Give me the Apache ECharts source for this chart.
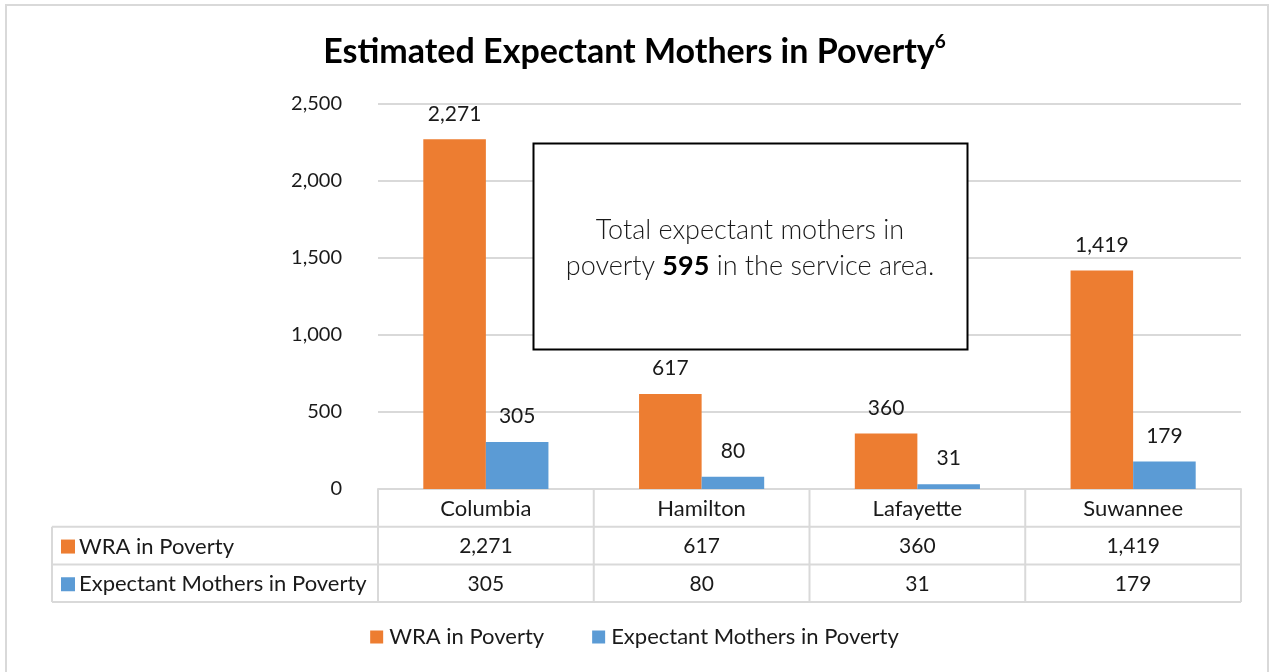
<!DOCTYPE html>
<html>
<head>
<meta charset="utf-8">
<script src="https://cdn.jsdelivr.net/npm/echarts@6/dist/echarts.min.js"></script>
<style>
  html, body { margin: 0; padding: 0; background: #fff; }
  #chart { width: 1269px; height: 672px; }
</style>
</head>
<body>
<div id="chart"></div>
<script>
// County breakdown of women of reproductive age (WRA) and expectant mothers in poverty
const categories = ['Columbia', 'Hamilton', 'Lafayette', 'Suwannee'];
const wraInPoverty = [2271, 617, 360, 1419];
const expectantMothers = [305, 80, 31, 179];
const seriesNames = ['WRA in Poverty', 'Expectant Mothers in Poverty'];
const seriesColors = ['#ED7D31', '#5B9BD5'];
const yMin = 0, yMax = 2500, yStep = 500;

const FONT = 'Lato, Carlito, Calibri, sans-serif';
const TEXT = '#1a1a1a';
const LINE = '#d9d9d9';
const NUM_SIZE = 21;
const WORD_SIZE = 22;
const fmt = v => v.toLocaleString('en-US');
const totalExpectant = expectantMothers.reduce((a, b) => a + b, 0);

const chart = echarts.init(document.getElementById('chart'), null, { renderer: 'canvas' });

const barLabel = {
  show: true,
  position: 'top',
  distance: 15,
  fontFamily: FONT,
  fontSize: NUM_SIZE,
  color: TEXT,
  formatter: p => fmt(p.value)
};

chart.setOption({
  animation: false,
  backgroundColor: '#fff',
  textStyle: { fontFamily: FONT },
  title: {
    left: 'center',
    top: 27,
    text: '{t|Estimated Expectant Mothers in Poverty}{s|6}',
    textStyle: {
      rich: {
        t: { fontFamily: FONT, fontWeight: 'bold', fontSize: 34, color: '#000', lineHeight: 40 },
        s: { fontFamily: FONT, fontWeight: 'bold', fontSize: 19, color: '#000', verticalAlign: 'top', lineHeight: 40, padding: [0, 0, 16, 0] }
      }
    }
  },
  legend: {
    bottom: 19,
    left: 'center',
    icon: 'rect',
    itemWidth: 13,
    itemHeight: 13,
    itemGap: 48,
    textStyle: { fontFamily: FONT, fontSize: WORD_SIZE, color: TEXT, padding: [0, 0, 0, 1] },
    data: seriesNames
  },
  grid: { left: 378, right: 28, top: 104, bottom: 183, containLabel: false },
  xAxis: {
    type: 'category',
    data: categories,
    axisLine: { show: true, lineStyle: { color: LINE, width: 2 } },
    axisTick: { show: false },
    axisLabel: { show: false }
  },
  yAxis: {
    type: 'value',
    min: yMin,
    max: yMax,
    interval: yStep,
    axisLine: { show: false },
    axisTick: { show: false },
    axisLabel: {
      fontFamily: FONT, fontSize: 20, color: TEXT, margin: 36,
      formatter: v => fmt(v)
    },
    splitLine: { lineStyle: { color: LINE, width: 2 } }
  },
  series: [
    {
      name: seriesNames[0], type: 'bar', data: wraInPoverty,
      itemStyle: { color: seriesColors[0] },
      barGap: '0%', barCategoryGap: '42%',
      label: barLabel
    },
    {
      name: seriesNames[1], type: 'bar', data: expectantMothers,
      itemStyle: { color: seriesColors[1] },
      barGap: '0%', barCategoryGap: '42%',
      label: barLabel
    }
  ]
});

// Data table under the plot plus the outer frame and the summary note
function drawExtras() {
  const c0 = chart.convertToPixel({ xAxisIndex: 0 }, 0);
  const c1 = chart.convertToPixel({ xAxisIndex: 0 }, 1);
  const band = c1 - c0;
  const edges = categories.map((_, i) => chart.convertToPixel({ xAxisIndex: 0 }, i) - band / 2);
  edges.push(edges[edges.length - 1] + band);
  const axisY = chart.convertToPixel({ yAxisIndex: 0 }, 0);
  const rowH = 37.7;
  const tableLeft = 52;
  const right = edges[edges.length - 1];
  const rows = [axisY, axisY + rowH, axisY + 2 * rowH, axisY + 3 * rowH];
  const ls = { stroke: LINE, lineWidth: 2 };
  const g = [];

  // outer frame
  g.push({ type: 'rect', shape: { x: 6, y: 5, width: 1262, height: 680 }, style: { fill: 'none', stroke: LINE, lineWidth: 2 }, silent: true });

  // horizontal rules
  g.push({ type: 'line', shape: { x1: tableLeft, y1: rows[1], x2: right, y2: rows[1] }, style: ls });
  g.push({ type: 'line', shape: { x1: tableLeft, y1: rows[2], x2: right, y2: rows[2] }, style: ls });
  g.push({ type: 'line', shape: { x1: tableLeft, y1: rows[3], x2: right, y2: rows[3] }, style: ls });
  // vertical rules
  g.push({ type: 'line', shape: { x1: tableLeft, y1: rows[1], x2: tableLeft, y2: rows[3] }, style: ls });
  edges.forEach(x => {
    g.push({ type: 'line', shape: { x1: x, y1: rows[0], x2: x, y2: rows[3] }, style: ls });
  });

  const cellText = (x, y, text, size, align) => ({
    type: 'text', x, y,
    style: { text, fontFamily: FONT, fontSize: size, fill: TEXT, align: align || 'center', verticalAlign: 'middle' }
  });

  // category header
  categories.forEach((name, i) => {
    g.push(cellText(edges[i] + band / 2, (rows[0] + rows[1]) / 2 + 1, name, WORD_SIZE));
  });
  // series rows
  [wraInPoverty, expectantMothers].forEach((vals, r) => {
    const cy = (rows[r + 1] + rows[r + 2]) / 2 + 1;
    g.push({ type: 'rect', shape: { x: 61, y: cy - 7, width: 14, height: 14 }, style: { fill: seriesColors[r] } });
    g.push(cellText(79, cy, seriesNames[r], WORD_SIZE, 'left'));
    vals.forEach((v, i) => g.push(cellText(edges[i] + band / 2, cy, fmt(v), NUM_SIZE)));
  });

  // summary note box
  g.push({
    type: 'rect', shape: { x: 533.5, y: 143.5, width: 434, height: 206 },
    style: { fill: '#fff', stroke: '#000', lineWidth: 2 }, z: 100
  });
  g.push({
    type: 'text', x: 750, y: 248, z: 101,
    style: {
      text: '{l|Total expectant mothers in}\n{l|poverty }{b|' + fmt(totalExpectant) + '}{l| in the service area.}',
      align: 'center', verticalAlign: 'middle',
      rich: {
        l: { fontFamily: FONT, fontSize: 27, fontWeight: 300, fill: '#1a1a1a', lineHeight: 36 },
        b: { fontFamily: FONT, fontSize: 27, fontWeight: 'bold', fill: '#000', lineHeight: 36 }
      }
    }
  });

  chart.setOption({ graphic: g });
}
drawExtras();
</script>
</body>
</html>
